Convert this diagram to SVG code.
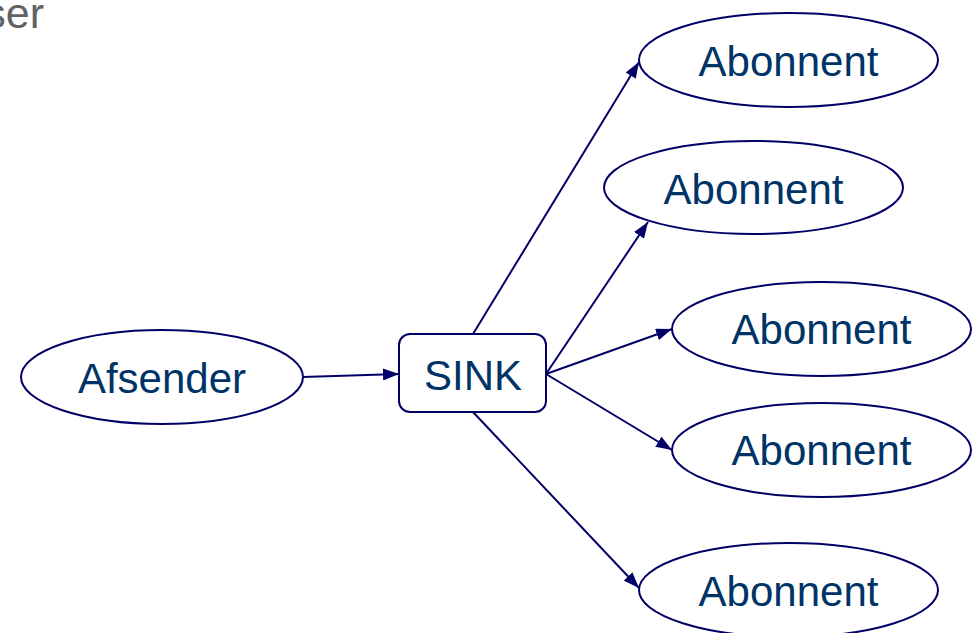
<svg xmlns="http://www.w3.org/2000/svg" width="978" height="633" viewBox="0 0 978 633">
<style>
.node{fill:#ffffff;stroke:#000066;stroke-width:2}
.lbl{font-family:"Liberation Sans",Arial,sans-serif;font-size:42px;fill:#003366;text-anchor:middle}
.edge{stroke:#000066;stroke-width:2;fill:none}
</style>
<defs>
<marker id="arr" viewBox="0 0 16 12" refX="16" refY="6" markerWidth="16" markerHeight="12" markerUnits="userSpaceOnUse" orient="auto">
<path d="M0,0 L16,6 L0,12 Z" fill="#000066"/>
</marker>
</defs>
<rect width="978" height="633" fill="#ffffff"/>
<text x="44" y="28" style="font-family:'Liberation Sans',Arial,sans-serif;font-size:43px;fill:#5f6366;text-anchor:end">ser</text>
<g id="connectors">
<line class="edge" x1="303" y1="377" x2="399" y2="374" marker-end="url(#arr)"/>
<line class="edge" x1="473" y1="334" x2="639" y2="62" marker-end="url(#arr)"/>
<line class="edge" x1="546" y1="374" x2="648" y2="222" marker-end="url(#arr)"/>
<line class="edge" x1="546" y1="374" x2="672" y2="329" marker-end="url(#arr)"/>
<line class="edge" x1="546" y1="374" x2="672" y2="450" marker-end="url(#arr)"/>
<line class="edge" x1="473" y1="412" x2="639" y2="588" marker-end="url(#arr)"/>
</g>
<g id="afsender">
<ellipse class="node" cx="162" cy="377" rx="141" ry="47"/>
<text class="lbl" x="162" y="393">Afsender</text>
</g>
<g id="sink">
<rect class="node" x="399" y="334" width="147" height="78" rx="11"/>
<text class="lbl" x="473" y="390">SINK</text>
</g>
<g id="abonnent1">
<ellipse class="node" cx="788.5" cy="60" rx="149.5" ry="47"/>
<text class="lbl" x="788.5" y="76">Abonnent</text>
</g>
<g id="abonnent2">
<ellipse class="node" cx="753.5" cy="187.5" rx="149.5" ry="46.5"/>
<text class="lbl" x="753.5" y="204">Abonnent</text>
</g>
<g id="abonnent3">
<ellipse class="node" cx="821.5" cy="329" rx="149.5" ry="47"/>
<text class="lbl" x="821.5" y="344">Abonnent</text>
</g>
<g id="abonnent4">
<ellipse class="node" cx="821.5" cy="450" rx="149.5" ry="47"/>
<text class="lbl" x="821.5" y="465">Abonnent</text>
</g>
<g id="abonnent5">
<ellipse class="node" cx="788.5" cy="590" rx="149.5" ry="47"/>
<text class="lbl" x="788.5" y="606">Abonnent</text>
</g>
</svg>
